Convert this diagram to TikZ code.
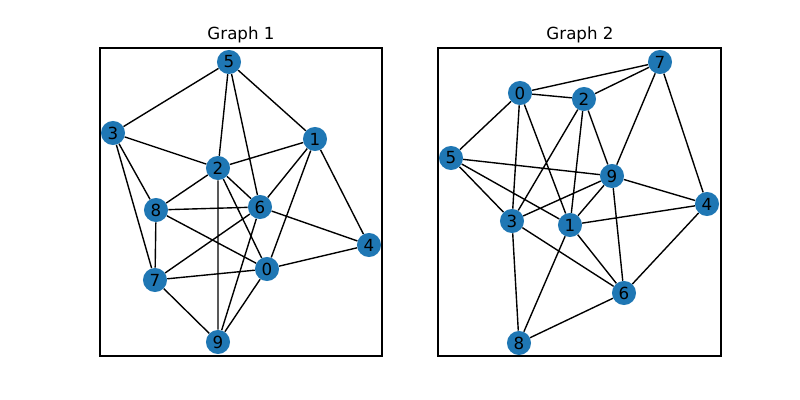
\documentclass[tikz,border=0pt]{standalone}
\usepackage{fontspec}
\setmainfont{DejaVu Sans}
\usepackage{tikz}
\usetikzlibrary{backgrounds}
\definecolor{gNode}{HTML}{1F77B4}
\tikzset{
  vert/.style={circle, fill=gNode, draw=none, minimum size=17.3pt, inner sep=0pt,
    font=\fontsize{12}{14}\selectfont},
  edge/.style={draw=black, line width=1pt},
  frame/.style={draw=black, line width=0.8pt},
  title/.style={anchor=base, inner sep=0pt, font=\fontsize{12}{14}\selectfont}
}
\begin{document}
\begin{tikzpicture}[x=0.72pt, y=-0.72pt]
  \useasboundingbox (0,0) rectangle (800,400);
  % left panel
  \draw[frame] (100,48) rectangle (382,356);
  \node[title] (t1) at (241,40) {Graph 1};
  \node[vert] (a0) at (267,269) {0};
  \node[vert] (a1) at (315,139) {1};
  \node[vert] (a2) at (218,168) {2};
  \node[vert] (a3) at (113,133) {3};
  \node[vert] (a4) at (369,245) {4};
  \node[vert] (a5) at (229,62) {5};
  \node[vert] (a6) at (260,207) {6};
  \node[vert] (a7) at (155,280) {7};
  \node[vert] (a8) at (156,210) {8};
  \node[vert] (a9) at (218,342) {9};
  % right panel
  \draw[frame] (438,48) rectangle (721,356);
  \node[title] (t2) at (580,40) {Graph 2};
  \node[vert] (b0) at (520,93) {0};
  \node[vert] (b1) at (570,225) {1};
  \node[vert] (b2) at (584,99) {2};
  \node[vert] (b3) at (512,221) {3};
  \node[vert] (b4) at (707,204) {4};
  \node[vert] (b5) at (451,158) {5};
  \node[vert] (b6) at (624,293) {6};
  \node[vert] (b7) at (660,62) {7};
  \node[vert] (b8) at (519,343) {8};
  \node[vert] (b9) at (612,176) {9};
  \begin{scope}[on background layer]
    \draw[edge] (a5) -- (a3) (a5) -- (a2) (a5) -- (a6) (a5) -- (a1)
      (a3) -- (a2) (a3) -- (a8) (a3) -- (a7)
      (a1) -- (a2) (a1) -- (a6) (a1) -- (a0) (a1) -- (a4)
      (a2) -- (a8) (a2) -- (a6) (a2) -- (a9) (a2) -- (a0)
      (a8) -- (a6) (a8) -- (a7) (a8) -- (a0)
      (a6) -- (a7) (a6) -- (a9) (a6) -- (a4)
      (a0) -- (a4) (a0) -- (a7) (a0) -- (a9) (a7) -- (a9);
    \draw[edge] (b0) -- (b7) (b0) -- (b2) (b0) -- (b5) (b0) -- (b3) (b0) -- (b1)
      (b2) -- (b7) (b2) -- (b3) (b2) -- (b1) (b2) -- (b9)
      (b7) -- (b9) (b7) -- (b4)
      (b5) -- (b9) (b5) -- (b3) (b5) -- (b1)
      (b9) -- (b3) (b9) -- (b1) (b9) -- (b4) (b9) -- (b6)
      (b3) -- (b6) (b3) -- (b8)
      (b1) -- (b4) (b1) -- (b6) (b1) -- (b8)
      (b4) -- (b6) (b6) -- (b8);
  \end{scope}
\end{tikzpicture}
\end{document}
